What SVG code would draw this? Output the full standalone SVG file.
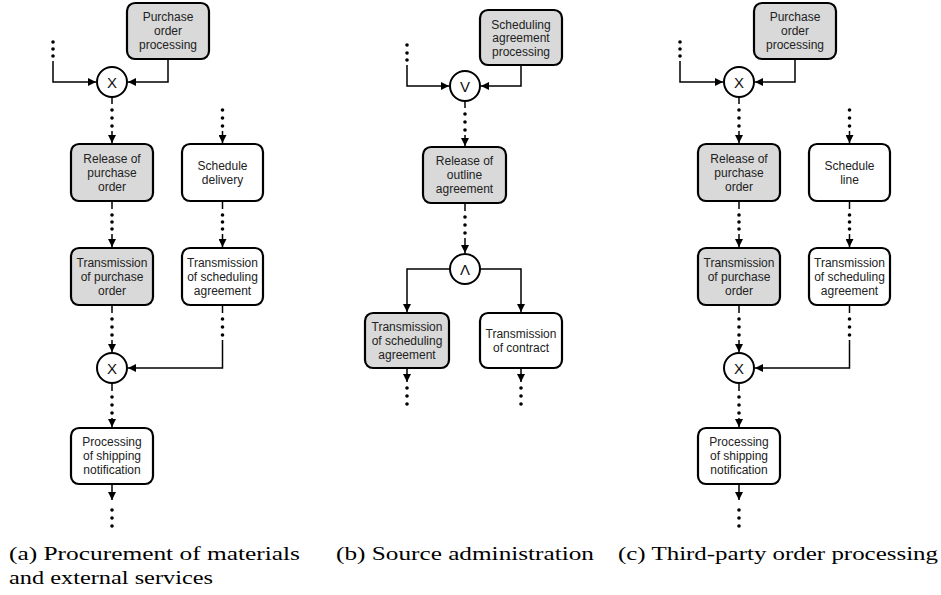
<svg xmlns="http://www.w3.org/2000/svg" width="941" height="595" viewBox="0 0 941 595">
<defs>
<marker id="arr" markerUnits="userSpaceOnUse" markerWidth="9" markerHeight="8" refX="8" refY="4" orient="auto">
<path d="M0,0 L8,4 L0,8 z" fill="#000"/>
</marker>
</defs>
<style>
.box{stroke:#000;stroke-width:2.2}
.g{fill:#d9d9d9}
.w{fill:#fff}
.gate{fill:#fff;stroke:#000;stroke-width:2}
.t{font-family:"Liberation Sans",Arial,sans-serif;font-size:12px;fill:#222;text-anchor:middle}
.gt{font-family:"Liberation Sans",Arial,sans-serif;font-size:15px;fill:#111;text-anchor:middle}
.c{fill:none;stroke:#000;stroke-width:1.5}
.a{marker-end:url(#arr)}
.d{fill:#000}
.cap{font-family:"Liberation Serif","Times New Roman",serif;font-size:19px;fill:#000}
</style>

<!-- Panel (a) -->
<g id="panel-a">
<g id="a-connectors">
<g class="d"><circle cx="53" cy="42" r="1.8"/><circle cx="53" cy="49" r="1.8"/><circle cx="53" cy="56" r="1.8"/></g>
<path class="c a" d="M53,61 V82 H96"/>
<path class="c a" d="M168,59 V82 H128"/>
<path class="c" d="M112,97 V104"/>
<g class="d"><circle cx="112" cy="110" r="1.8"/><circle cx="112" cy="118" r="1.8"/><circle cx="112" cy="126" r="1.8"/></g>
<path class="c a" d="M112,131 V143"/>
<g class="d"><circle cx="222.5" cy="110" r="1.8"/><circle cx="222.5" cy="118" r="1.8"/><circle cx="222.5" cy="126" r="1.8"/></g>
<path class="c a" d="M222.5,131 V143"/>
<path class="c" d="M112,201 V209"/>
<g class="d"><circle cx="112" cy="215" r="1.8"/><circle cx="112" cy="222" r="1.8"/><circle cx="112" cy="229" r="1.8"/></g>
<path class="c a" d="M112,234 V247"/>
<path class="c" d="M222.5,201 V209"/>
<g class="d"><circle cx="222.5" cy="215" r="1.8"/><circle cx="222.5" cy="222" r="1.8"/><circle cx="222.5" cy="229" r="1.8"/></g>
<path class="c a" d="M222.5,234 V247"/>
<path class="c" d="M112,305 V313"/>
<g class="d"><circle cx="112" cy="319" r="1.8"/><circle cx="112" cy="327" r="1.8"/><circle cx="112" cy="335" r="1.8"/></g>
<path class="c a" d="M112,340 V352"/>
<path class="c" d="M222.5,305 V313"/>
<g class="d"><circle cx="222.5" cy="319" r="1.8"/><circle cx="222.5" cy="327" r="1.8"/><circle cx="222.5" cy="335" r="1.8"/></g>
<path class="c a" d="M222.5,340 V368 H128"/>
<path class="c" d="M112,383 V391"/>
<g class="d"><circle cx="112" cy="397" r="1.8"/><circle cx="112" cy="405" r="1.8"/><circle cx="112" cy="413" r="1.8"/></g>
<path class="c a" d="M112,418 V427"/>
<path class="c a" d="M112,484 V500"/>
<g class="d"><circle cx="112" cy="510" r="1.8"/><circle cx="112" cy="518" r="1.8"/><circle cx="112" cy="526" r="1.8"/></g>
</g>
<g id="a-po"><rect class="box g" x="127" y="3" width="82" height="56" rx="8"/>
<text class="t" x="168" y="21">Purchase</text><text class="t" x="168" y="35">order</text><text class="t" x="168" y="49">processing</text></g>
<g id="a-x1"><circle class="gate" cx="112" cy="82" r="15"/><text class="gt" x="112" y="87.5">X</text></g>
<g id="a-rel"><rect class="box g" x="71" y="144" width="82" height="57" rx="8"/>
<text class="t" x="112" y="162.5">Release of</text><text class="t" x="112" y="176.5">purchase</text><text class="t" x="112" y="190.5">order</text></g>
<g id="a-sd"><rect class="box w" x="182" y="144" width="81" height="57" rx="8"/>
<text class="t" x="222.5" y="169.5">Schedule</text><text class="t" x="222.5" y="183.5">delivery</text></g>
<g id="a-tpo"><rect class="box g" x="71" y="248" width="82" height="57" rx="8"/>
<text class="t" x="112" y="266.5">Transmission</text><text class="t" x="112" y="280.5">of purchase</text><text class="t" x="112" y="294.5">order</text></g>
<g id="a-tsa"><rect class="box w" x="182" y="248" width="81" height="57" rx="8"/>
<text class="t" x="222.5" y="266.5">Transmission</text><text class="t" x="222.5" y="280.5">of scheduling</text><text class="t" x="222.5" y="294.5">agreement</text></g>
<g id="a-x2"><circle class="gate" cx="112" cy="368" r="15"/><text class="gt" x="112" y="373.5">X</text></g>
<g id="a-psn"><rect class="box w" x="71" y="428" width="82" height="56" rx="8"/>
<text class="t" x="112" y="446">Processing</text><text class="t" x="112" y="460">of shipping</text><text class="t" x="112" y="474">notification</text></g>
</g>

<!-- Panel (b) -->
<g id="panel-b">
<g id="b-connectors">
<g class="d"><circle cx="407" cy="45" r="1.8"/><circle cx="407" cy="53" r="1.8"/><circle cx="407" cy="60" r="1.8"/></g>
<path class="c a" d="M407,65 V86 H449"/>
<path class="c a" d="M521,65 V86 H481"/>
<path class="c" d="M465,101 V108"/>
<g class="d"><circle cx="465" cy="114" r="1.8"/><circle cx="465" cy="122" r="1.8"/><circle cx="465" cy="130" r="1.8"/></g>
<path class="c a" d="M465,135 V146"/>
<path class="c" d="M465,203 V211"/>
<g class="d"><circle cx="465" cy="217" r="1.8"/><circle cx="465" cy="225" r="1.8"/><circle cx="465" cy="233" r="1.8"/></g>
<path class="c a" d="M465,238 V253"/>
<path class="c a" d="M450,269 H407 V312"/>
<path class="c a" d="M480,269 H521 V312"/>
<path class="c a" d="M407,368 V382"/>
<g class="d"><circle cx="407" cy="388" r="1.8"/><circle cx="407" cy="396" r="1.8"/><circle cx="407" cy="404" r="1.8"/></g>
<path class="c a" d="M521,368 V382"/>
<g class="d"><circle cx="521" cy="388" r="1.8"/><circle cx="521" cy="396" r="1.8"/><circle cx="521" cy="404" r="1.8"/></g>
</g>
<g id="b-sap"><rect class="box g" x="480" y="10" width="82" height="55" rx="8"/>
<text class="t" x="521" y="28.5">Scheduling</text><text class="t" x="521" y="42">agreement</text><text class="t" x="521" y="55.5">processing</text></g>
<g id="b-v"><circle class="gate" cx="465" cy="86" r="15"/><text class="gt" x="465" y="91.5">V</text></g>
<g id="b-roa"><rect class="box g" x="423" y="147" width="83" height="56" rx="8"/>
<text class="t" x="464.5" y="165">Release of</text><text class="t" x="464.5" y="179">outline</text><text class="t" x="464.5" y="193">agreement</text></g>
<g id="b-and"><circle class="gate" cx="465" cy="269" r="15"/><text class="gt" x="465" y="274.5">Λ</text></g>
<g id="b-tsa"><rect class="box g" x="365" y="313" width="84" height="55" rx="8"/>
<text class="t" x="407" y="330.5">Transmission</text><text class="t" x="407" y="344.5">of scheduling</text><text class="t" x="407" y="358.5">agreement</text></g>
<g id="b-tc"><rect class="box w" x="480" y="313" width="82" height="55" rx="8"/>
<text class="t" x="521" y="337.5">Transmission</text><text class="t" x="521" y="351.5">of contract</text></g>
</g>

<!-- Panel (c) -->
<g id="panel-c" transform="translate(627,0)">
<g id="c-connectors">
<g class="d"><circle cx="53" cy="42" r="1.8"/><circle cx="53" cy="49" r="1.8"/><circle cx="53" cy="56" r="1.8"/></g>
<path class="c a" d="M53,61 V82 H96"/>
<path class="c a" d="M168,59 V82 H128"/>
<path class="c" d="M112,97 V104"/>
<g class="d"><circle cx="112" cy="110" r="1.8"/><circle cx="112" cy="118" r="1.8"/><circle cx="112" cy="126" r="1.8"/></g>
<path class="c a" d="M112,131 V143"/>
<g class="d"><circle cx="222.5" cy="110" r="1.8"/><circle cx="222.5" cy="118" r="1.8"/><circle cx="222.5" cy="126" r="1.8"/></g>
<path class="c a" d="M222.5,131 V143"/>
<path class="c" d="M112,201 V209"/>
<g class="d"><circle cx="112" cy="215" r="1.8"/><circle cx="112" cy="222" r="1.8"/><circle cx="112" cy="229" r="1.8"/></g>
<path class="c a" d="M112,234 V247"/>
<path class="c" d="M222.5,201 V209"/>
<g class="d"><circle cx="222.5" cy="215" r="1.8"/><circle cx="222.5" cy="222" r="1.8"/><circle cx="222.5" cy="229" r="1.8"/></g>
<path class="c a" d="M222.5,234 V247"/>
<path class="c" d="M112,305 V313"/>
<g class="d"><circle cx="112" cy="319" r="1.8"/><circle cx="112" cy="327" r="1.8"/><circle cx="112" cy="335" r="1.8"/></g>
<path class="c a" d="M112,340 V352"/>
<path class="c" d="M222.5,305 V313"/>
<g class="d"><circle cx="222.5" cy="319" r="1.8"/><circle cx="222.5" cy="327" r="1.8"/><circle cx="222.5" cy="335" r="1.8"/></g>
<path class="c a" d="M222.5,340 V368 H128"/>
<path class="c" d="M112,383 V391"/>
<g class="d"><circle cx="112" cy="397" r="1.8"/><circle cx="112" cy="405" r="1.8"/><circle cx="112" cy="413" r="1.8"/></g>
<path class="c a" d="M112,418 V427"/>
<path class="c a" d="M112,484 V500"/>
<g class="d"><circle cx="112" cy="510" r="1.8"/><circle cx="112" cy="518" r="1.8"/><circle cx="112" cy="526" r="1.8"/></g>
</g>
<g id="c-po"><rect class="box g" x="127" y="3" width="82" height="56" rx="8"/>
<text class="t" x="168" y="21">Purchase</text><text class="t" x="168" y="35">order</text><text class="t" x="168" y="49">processing</text></g>
<g id="c-x1"><circle class="gate" cx="112" cy="82" r="15"/><text class="gt" x="112" y="87.5">X</text></g>
<g id="c-rel"><rect class="box g" x="71" y="144" width="82" height="57" rx="8"/>
<text class="t" x="112" y="162.5">Release of</text><text class="t" x="112" y="176.5">purchase</text><text class="t" x="112" y="190.5">order</text></g>
<g id="c-sl"><rect class="box w" x="182" y="144" width="81" height="57" rx="8"/>
<text class="t" x="222.5" y="169.5">Schedule</text><text class="t" x="222.5" y="183.5">line</text></g>
<g id="c-tpo"><rect class="box g" x="71" y="248" width="82" height="57" rx="8"/>
<text class="t" x="112" y="266.5">Transmission</text><text class="t" x="112" y="280.5">of purchase</text><text class="t" x="112" y="294.5">order</text></g>
<g id="c-tsa"><rect class="box w" x="182" y="248" width="81" height="57" rx="8"/>
<text class="t" x="222.5" y="266.5">Transmission</text><text class="t" x="222.5" y="280.5">of scheduling</text><text class="t" x="222.5" y="294.5">agreement</text></g>
<g id="c-x2"><circle class="gate" cx="112" cy="368" r="15"/><text class="gt" x="112" y="373.5">X</text></g>
<g id="c-psn"><rect class="box w" x="71" y="428" width="82" height="56" rx="8"/>
<text class="t" x="112" y="446">Processing</text><text class="t" x="112" y="460">of shipping</text><text class="t" x="112" y="474">notification</text></g>
</g>

<!-- Captions -->
<g id="captions">
<text class="cap" x="9" y="560" textLength="291" lengthAdjust="spacingAndGlyphs">(a) Procurement of materials</text>
<text class="cap" x="9" y="584" textLength="204" lengthAdjust="spacingAndGlyphs">and external services</text>
<text class="cap" x="336" y="560" textLength="258" lengthAdjust="spacingAndGlyphs">(b) Source administration</text>
<text class="cap" x="618" y="560" textLength="320" lengthAdjust="spacingAndGlyphs">(c) Third-party order processing</text>
</g>
</svg>
